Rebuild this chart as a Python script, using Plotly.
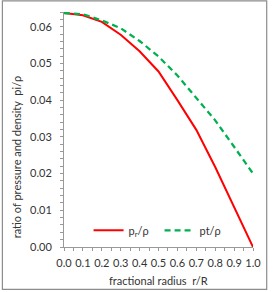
import plotly.graph_objects as go

r = [0.0, 0.1, 0.2, 0.3, 0.4, 0.5, 0.6, 0.7, 0.8, 0.9, 1.0]
pr_rho = [0.0637, 0.0631, 0.0613, 0.0578, 0.0533, 0.0478, 0.0400, 0.0319, 0.0218, 0.0110, 0.0]
pt_rho = [0.0637, 0.0634, 0.0617, 0.0596, 0.0561, 0.0519, 0.0467, 0.0407, 0.0345, 0.0273, 0.0200]
series_names = ["p<sub>r</sub>/ρ", "pt/ρ"]
x_ticks = [0.0, 0.1, 0.2, 0.3, 0.4, 0.5, 0.6, 0.7, 0.8, 0.9, 1.0]
y_ticks = [0.00, 0.01, 0.02, 0.03, 0.04, 0.05, 0.06]

FONT = "Lato"
fig = go.Figure()
fig.add_trace(go.Scatter(x=r, y=pr_rho, mode="lines", name=series_names[0],
                         line=dict(color="#FF0000", width=2)))
fig.add_trace(go.Scatter(x=r, y=pt_rho, mode="lines", name=series_names[1],
                         line=dict(color="#00B050", width=2.25, dash="6px,4px")))

fig.update_layout(
    width=273, height=292,
    margin=dict(l=64, r=16, t=12, b=45),
    paper_bgcolor="white", plot_bgcolor="white",
    font=dict(family=FONT, size=11, color="#333333"),
    showlegend=True,
    legend=dict(orientation="h", x=0.13, y=0.071, xanchor="left", yanchor="middle",
                bgcolor="rgba(0,0,0,0)", font=dict(size=11, family=FONT),
                entrywidth=26, entrywidthmode="pixels", itemwidth=30),
    xaxis=dict(range=[0, 1.0], tickvals=x_ticks, ticktext=[f"{v:.1f}" for v in x_ticks],
               showgrid=False, zeroline=False, showline=True, linecolor="#999999", linewidth=1,
               ticks="outside", ticklen=3, tickcolor="#999999",
               minor=dict(dtick=0.05, ticks="outside", ticklen=3, tickcolor="#999999"),
               ticklabelstandoff=3, tickfont=dict(size=11)),
    yaxis=dict(range=[0, 0.064], tickvals=y_ticks, ticktext=[f"{v:.2f}" for v in y_ticks],
               showgrid=False, zeroline=False, showline=True, linecolor="#999999", linewidth=1,
               ticks="outside", ticklen=3, tickcolor="#999999",
               minor=dict(dtick=0.002, ticks="outside", ticklen=3, tickcolor="#999999"),
               ticklabelstandoff=6, tickfont=dict(size=11)),
    annotations=[
        dict(text="fractional radius  r/R", xref="paper", yref="paper",
             x=0.5, y=-0.143, showarrow=False, xanchor="center", yanchor="middle",
             font=dict(size=11, family=FONT, color="#333333")),
        dict(text="ratio of pressure and density  pi/ρ", xref="paper", yref="paper",
             x=-0.254, y=0.386, showarrow=False, textangle=-90, xanchor="center", yanchor="middle",
             font=dict(size=11, family=FONT, color="#333333")),
    ],
    shapes=[dict(type="rect", xref="paper", yref="paper",
                 x0=-0.326, x1=1.0725, y0=-0.180, y1=1.047,
                 line=dict(color="#8c8c8c", width=1.2), fillcolor="rgba(0,0,0,0)", layer="above")],
)

fig.write_html("out.html", config={"displayModeBar": False},
               post_script="document.body.style.margin='0';document.body.style.overflow='hidden';")
